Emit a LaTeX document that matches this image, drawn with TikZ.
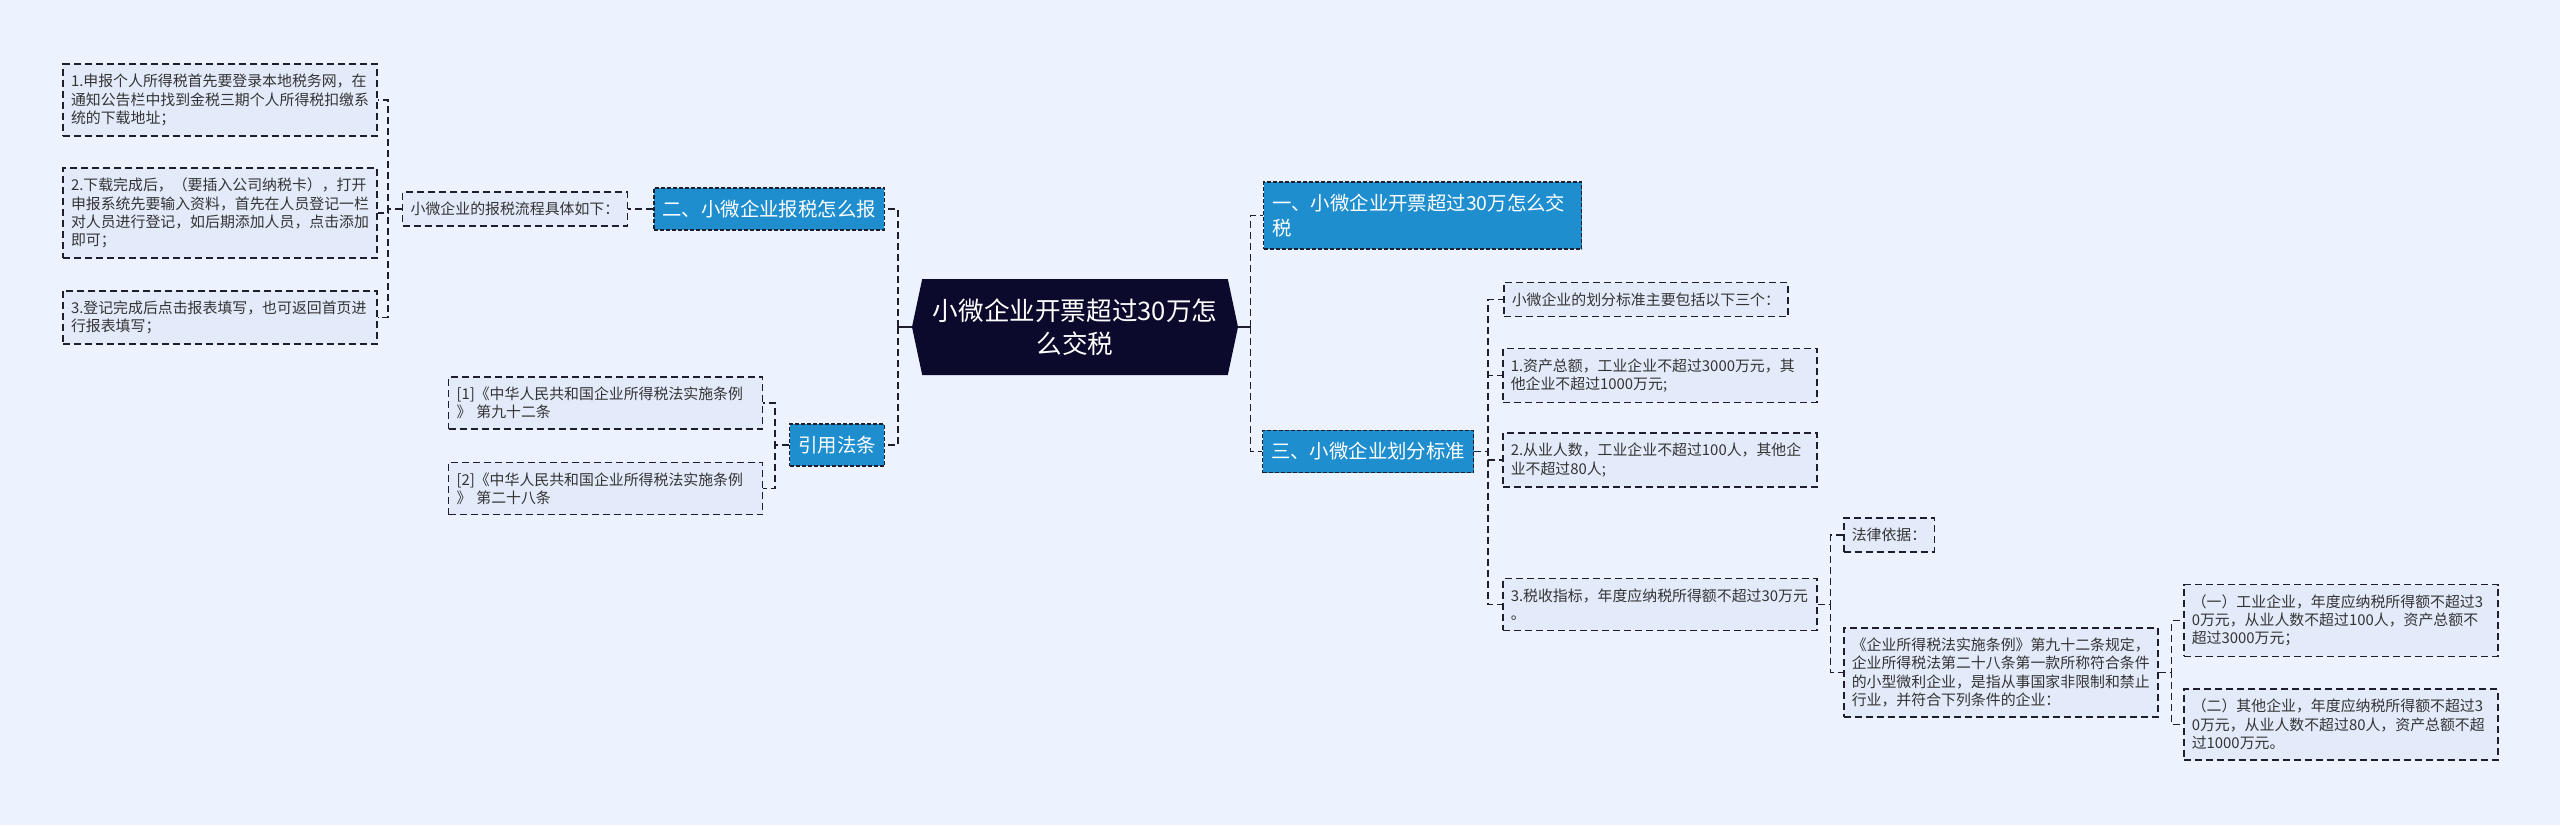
\documentclass[tikz,border=0pt]{standalone}
\usepackage{fontspec}
\setmainfont{Noto Sans CJK SC}
\usepackage{xcolor}
\usepackage{tikz}
\usetikzlibrary{shapes.symbols}
\definecolor{mBg}{HTML}{EDF3FE}
\definecolor{mNavy}{HTML}{0C0A2C}
\definecolor{mBlue}{HTML}{1F8ECF}
\definecolor{mLeaf}{HTML}{E3EBFA}
\definecolor{mLine}{HTML}{1E1E2E}
\definecolor{mText}{HTML}{333333}

\begin{document}
\begin{tikzpicture}[
        x=0.5pt, y=-0.5pt,
        hubbox/.style={signal, signal to=east and west, signal pointer angle=156,
                    fill=mNavy, text=white, align=center, inner sep=0pt,
                    minimum width=163pt, minimum height=48pt,
                    font=\fontsize{12.8}{16.5}\selectfont},
        topic/.style={draw=mLine, dash pattern=on 2pt off 1pt, line width=.6pt,
                    fill=mBlue, text=white, align=left, inner xsep=4.25pt, inner ysep=6pt,
                    font=\fontsize{9.7}{12.5}\selectfont},
        leaf/.style={draw=mLine, dash pattern=on 3.5pt off 2pt, line width=.75pt,
                    fill=mLeaf, text=mText, align=left, inner xsep=4pt, inner ysep=5pt,
                    font=\fontsize{7.45}{9.15}\selectfont},
        wideleaf/.style={leaf, text width=149pt},
        link/.style={draw=mLine, dash pattern=on 3.5pt off 2pt, line width=.9pt},
        stub/.style={draw=mLine, line width=.9pt},
    ]
        \path[use as bounding box, fill=mBg] (0,0) rectangle (2560,825);

        \node[hubbox] (hub) at (1075,327) {小微企业开票超过30万怎\\么交税};

        % left side
        \node[topic, anchor=east] (how) at (885,209) {二、小微企业报税怎么报};
        \node[leaf, anchor=east] (flow) at (628,209) {小微企业的报税流程具体如下：};
        \node[wideleaf] (step1) at (220,100) {1.申报个人所得税首先要登录本地税务网，在\\通知公告栏中找到金税三期个人所得税扣缴系\\统的下载地址；};
        \node[wideleaf] (step2) at (220,213) {2.下载完成后，（要插入公司纳税卡），打开\\申报系统先要输入资料，首先在人员登记一栏\\对人员进行登记，如后期添加人员，点击添加\\即可；};
        \node[wideleaf] (step3) at (220,317.5) {3.登记完成后点击报表填写，也可返回首页进\\行报表填写；};
        \node[topic, anchor=east] (cite) at (885,445) {引用法条};
        \node[wideleaf] (ref1) at (605.5,403) {[1]《中华人民共和国企业所得税法实施条例\\》 第九十二条};
        \node[wideleaf] (ref2) at (605.5,488.5) {[2]《中华人民共和国企业所得税法实施条例\\》 第二十八条};

        % right side
        \node[topic, anchor=west, text width=150.5pt] (pay) at (1263,215.5) {一、小微企业开票超过30万怎么交\\税};
        \node[topic, anchor=west] (std) at (1262,451.5) {三、小微企业划分标准};
        \node[leaf, anchor=west] (intro) at (1503,299.5) {小微企业的划分标准主要包括以下三个：};
        \node[wideleaf, anchor=west] (std1) at (1502,375.5) {1.资产总额，工业企业不超过3000万元，其\\他企业不超过1000万元;};
        \node[wideleaf, anchor=west] (std2) at (1502,460) {2.从业人数，工业企业不超过100人，其他企\\业不超过80人;};
        \node[wideleaf, anchor=west] (std3) at (1502,604.5) {3.税收指标，年度应纳税所得额不超过30万元\\。};
        \node[leaf, anchor=west] (basis) at (1843,535) {法律依据：};
        \node[wideleaf, anchor=west] (rule) at (1843,672.5) {《企业所得税法实施条例》第九十二条规定，\\企业所得税法第二十八条第一款所称符合条件\\的小型微利企业，是指从事国家非限制和禁止\\行业，并符合下列条件的企业：};
        \node[wideleaf, anchor=west] (rule1) at (2183,620.5) {（一）工业企业，年度应纳税所得额不超过3\\0万元，从业人数不超过100人，资产总额不\\超过3000万元；};
        \node[wideleaf, anchor=west] (rule2) at (2183,724.5) {（二）其他企业，年度应纳税所得额不超过3\\0万元，从业人数不超过80人，资产总额不超\\过1000万元。};

        % connectors
        \draw[stub] (hub.west) -- ++(-14,0) coordinate (hl);
        \draw[link] (hl) |- (how.east);
        \draw[link] (hl) |- (cite.east);
        \draw[stub] (hub.east) -- ++(12,0) coordinate (hr);
        \draw[link] (hr) |- (pay.west);
        \draw[link] (hr) |- (std.west);

        \draw[link] (how.west) -- (flow.east);
        \draw[link] (flow.west) -- ++(-14,0) |- (step1.east);
        \draw[link] (flow.west) -- ++(-14,0) |- (step2.east);
        \draw[link] (flow.west) -- ++(-14,0) |- (step3.east);
        \draw[link] (cite.west) -- ++(-14,0) |- (ref1.east);
        \draw[link] (cite.west) -- ++(-14,0) |- (ref2.east);

        \draw[link] (std.east) -- ++(14,0) |- (intro.west);
        \draw[link] (std.east) -- ++(14,0) |- (std1.west);
        \draw[link] (std.east) -- ++(14,0) |- (std2.west);
        \draw[link] (std.east) -- ++(14,0) |- (std3.west);
        \draw[link] (std3.east) -- ++(13,0) |- (basis.west);
        \draw[link] (std3.east) -- ++(13,0) |- (rule.west);
        \draw[link] (rule.east) -- ++(13,0) |- (rule1.west);
        \draw[link] (rule.east) -- ++(13,0) |- (rule2.west);
    \end{tikzpicture}
\end{document}
